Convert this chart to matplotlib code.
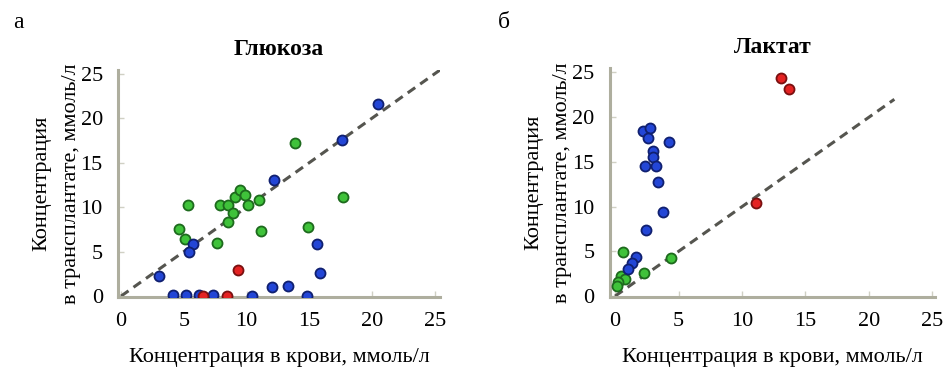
import matplotlib
matplotlib.use("Agg")
import matplotlib.pyplot as plt

plt.rcParams['font.family'] = ['Liberation Serif', 'DejaVu Serif']

# Glucose (panel a)
glu_blue_x = [20.5, 17.6, 12.2, 5.75, 5.45, 3.05, 15.6, 15.85, 12.0, 13.3, 4.1, 5.2, 6.2, 7.3, 10.4, 14.8]
glu_blue_y = [21.6, 17.5, 13.0, 5.8, 4.9, 2.25, 5.9, 2.6, 1.0, 1.1, 0.1, 0.1, 0.1, 0.1, 0.0, 0.0]
glu_green_x = [13.85, 17.65, 5.36, 7.9, 8.55, 9.1, 9.5, 9.9, 10.1, 11.0, 8.95, 8.55, 11.15, 14.9, 4.6, 5.1, 7.65]
glu_green_y = [17.15, 11.15, 10.2, 10.2, 10.2, 11.1, 11.9, 11.35, 10.2, 10.85, 9.3, 8.35, 7.35, 7.8, 7.5, 6.4, 6.0]
glu_red_x = [9.35, 6.5, 8.4]
glu_red_y = [2.9, 0.05, 0.05]

# Lactate (panel b)
lac_blue_x = [2.23, 2.76, 2.6, 4.25, 3.0, 2.97, 2.36, 3.2, 3.4, 3.75, 2.4, 1.65, 1.3, 1.05]
lac_blue_y = [18.45, 18.8, 17.7, 17.2, 16.2, 15.5, 14.6, 14.6, 12.8, 9.35, 7.4, 4.4, 3.75, 3.0]
lac_green_x = [0.65, 4.4, 2.3, 0.5, 0.8, 0.26, 0.13]
lac_green_y = [4.95, 4.25, 2.55, 2.3, 1.9, 1.6, 1.15]
lac_red_x = [13.05, 13.7, 11.1]
lac_red_y = [24.4, 23.1, 10.45]

ticks = [0, 5, 10, 15, 20, 25]
xlabel = "Концентрация в крови, ммоль/л"
ylabel = "Концентрация\nв трансплантате, ммоль/л"

fig = plt.figure(figsize=(9.45, 3.72), dpi=100)
ax1 = fig.add_axes([0.1249, 0.2016, 0.3407, 0.6102])
ax2 = fig.add_axes([0.6455, 0.2016, 0.3439, 0.6156])

panels = [
    (ax1, "Глюкоза", (glu_blue_x, glu_blue_y), (glu_green_x, glu_green_y), (glu_red_x, glu_red_y),
     (-0.24, 25.4), (-0.1, 25.4), 25.4),
    (ax2, "Лактат", (lac_blue_x, lac_blue_y), (lac_green_x, lac_green_y), (lac_red_x, lac_red_y),
     (-0.4, 25.2), (-0.1, 25.5), 22.0),
]

for ax, title, blue, green, red, xl, yl, diag in panels:
    ax.plot([0, diag], [0, diag], ls=(0, (3, 2)), color='#55554f', lw=2.2, zorder=2)
    ax.scatter(*green, s=52, color='#3fc23a', edgecolors='#1d6a1d', linewidths=1.3, zorder=3)
    ax.scatter(*blue, s=52, color='#2346d6', edgecolors='#102070', linewidths=1.3, zorder=3)
    ax.scatter(*red, s=52, color='#e42222', edgecolors='#7a1010', linewidths=1.3, zorder=4)
    ax.set_xlim(*xl)
    ax.set_ylim(*yl)
    ax.set_xticks(ticks)
    ax.set_yticks(ticks)
    for s in ['top', 'right']:
        ax.spines[s].set_visible(False)
    for s in ['left', 'bottom']:
        ax.spines[s].set_color('#aeae9e')
        ax.spines[s].set_linewidth(2.2)
    ax.tick_params(direction='in', length=4, width=1, color='#d0d0c4', labelsize=16, pad=11)
    ax.set_title(title, fontsize=17, fontweight='bold', pad=11)
    ax.set_xlabel(xlabel, fontsize=16, labelpad=12)
    ax.set_ylabel(ylabel, fontsize=16, labelpad=0, multialignment='center', linespacing=1.75)

fig.text(0.014, 0.94, "а", fontsize=17, va='center')
fig.text(0.527, 0.94, "б", fontsize=17, va='center')

fig.savefig("out.png", dpi=100)
